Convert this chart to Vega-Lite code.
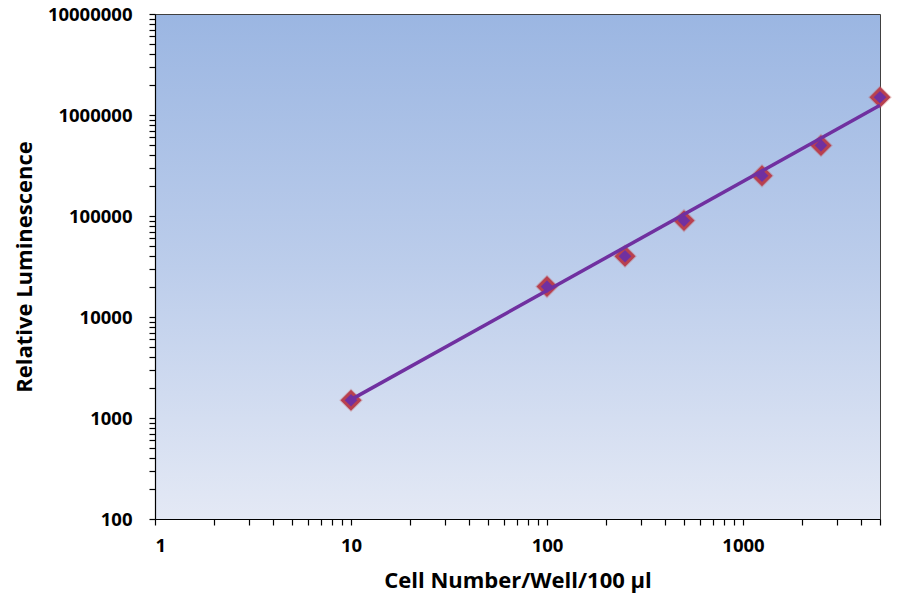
{
  "$schema": "https://vega.github.io/schema/vega-lite/v6.json",
  "autosize": "none",
  "width": 725,
  "height": 505,
  "padding": {"left": 155, "top": 14, "right": 21, "bottom": 80},
  "background": "#ffffff",
  "datasets": {
    "points": [
      {"cells": 10, "lum": 1500},
      {"cells": 100, "lum": 20000},
      {"cells": 250, "lum": 40000},
      {"cells": 500, "lum": 90000},
      {"cells": 1250, "lum": 250000},
      {"cells": 2500, "lum": 500000},
      {"cells": 5000, "lum": 1500000}
    ],
    "fit": [
      {"cells": 10, "lum": 1520},
      {"cells": 5000, "lum": 1250000}
    ]
  },
  "config": {
    "view": {
      "stroke": "#404040",
      "strokeWidth": 1,
      "fill": {
        "gradient": "linear",
        "x1": 0, "y1": 0, "x2": 0, "y2": 1,
        "stops": [
          {"offset": 0, "color": "#9bb6e2"},
          {"offset": 0.5, "color": "#bccdeb"},
          {"offset": 1, "color": "#e4e9f5"}
        ]
      }
    },
    "axis": {
      "labelFont": "Open Sans",
      "labelFontWeight": "bold",
      "labelFontSize": 18.5,
      "labelColor": "#000000",
      "titleFont": "Open Sans",
      "titleFontWeight": "bold",
      "titleFontSize": 22,
      "titleColor": "#000000",
      "domainColor": "#000000",
      "domainWidth": 1.2,
      "tickColor": "#000000",
      "tickWidth": 1.2,
      "tickSize": 6,
      "grid": false
    }
  },
  "encoding": {
    "x": {
      "field": "cells",
      "type": "quantitative",
      "scale": {"type": "log", "domain": [1, 5000], "nice": false},
      "axis": {
        "title": "Cell Number/Well/100 µl",
        "values": [1,2,3,4,5,6,7,8,9,10,20,30,40,50,60,70,80,90,100,200,300,400,500,600,700,800,900,1000,2000,3000,4000,5000],
        "format": "d",
        "labelExpr": "test(/^10*$/, datum.label) ? datum.label : ''",
        "labelPadding": 11,
        "titlePadding": 16,
        "encode": {
          "ticks": {
            "update": {
              "y": {"signal": "abs(log(datum.value)/LN10 - round(log(datum.value)/LN10)) < 0.001 ? -7 : 0"}
            }
          }
        }
      }
    },
    "y": {
      "field": "lum",
      "type": "quantitative",
      "scale": {"type": "log", "domain": [100, 10000000], "nice": false},
      "axis": {
        "title": "Relative Luminescence",
        "values": [100,200,300,400,500,600,700,800,900,1000,2000,3000,4000,5000,6000,7000,8000,9000,10000,20000,30000,40000,50000,60000,70000,80000,90000,100000,200000,300000,400000,500000,600000,700000,800000,900000,1000000,2000000,3000000,4000000,5000000,6000000,7000000,8000000,9000000,10000000],
        "format": "d",
        "labelExpr": "test(/^10*$/, datum.label) ? datum.label : ''",
        "labelPadding": 17,
        "titlePadding": 11,
        "encode": {
          "ticks": {
            "update": {
              "x": {"signal": "abs(log(datum.value)/LN10 - round(log(datum.value)/LN10)) < 0.001 ? 7 : 0"}
            }
          }
        }
      }
    }
  },
  "layer": [
    {
      "data": {"name": "points"},
      "mark": {"type": "point", "shape": "diamond", "filled": true, "size": 560, "color": "#c0504d", "opacity": 0.3}
    },
    {
      "data": {"name": "points"},
      "mark": {"type": "point", "shape": "diamond", "filled": true, "size": 280, "fill": "#7030a0", "stroke": "#b8404f", "strokeWidth": 3, "opacity": 1}
    },
    {
      "data": {"name": "fit"},
      "mark": {"type": "line", "color": "#7030a0", "strokeWidth": 3.5}
    }
  ]
}
